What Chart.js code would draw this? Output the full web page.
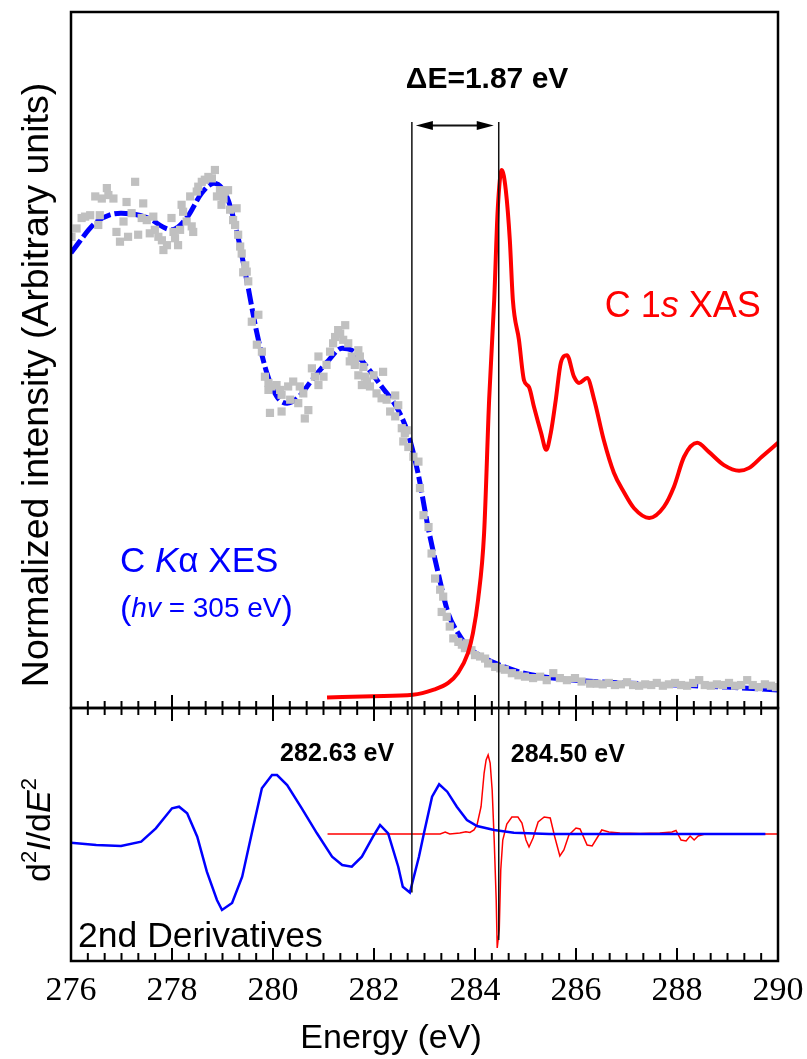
<!DOCTYPE html>
<html>
<head>
<meta charset="utf-8">
<script src="https://cdn.jsdelivr.net/npm/chart.js@4.4.0/dist/chart.umd.min.js"></script>
<style>
  html, body { margin: 0; padding: 0; background: #fff; overflow: hidden; }
  #wrap { position: relative; width: 807px; height: 1059px; overflow: hidden; }
  canvas { position: absolute; left: 0; }
  #top { top: 0; }
  #bottom { top: 690px; }
</style>
</head>
<body>
<div id="wrap">
  <canvas id="top" width="807" height="730"></canvas>
  <canvas id="bottom" width="860" height="369"></canvas>
</div>
<script>
// ---- data (energy in eV, intensity in arbitrary units) ----
const energyTicks = [276, 278, 280, 282, 284, 286, 288, 290];
const markerEnergies = [282.75, 284.47];   // where the two vertical guide lines sit

// C K-alpha XES, smoothed fit (blue dashed)
const xesFitX = [276.00, 276.50, 276.99, 277.49, 278.00, 278.30, 278.59, 278.83, 279.09, 279.29,
  279.49, 279.68, 279.88, 280.08, 280.28, 280.48, 280.77, 281.07, 281.37, 281.56,
  281.86, 282.16, 282.48, 282.67, 282.87, 283.07, 283.27, 283.47, 283.66, 283.86,
  284.18, 284.48, 284.97, 285.98, 286.97, 287.98, 288.99, 290.00];
const xesFitY = [65.4, 69.8, 71.1, 70.5, 68.7, 70.5, 74.0, 75.4, 73.4, 68.2,
  61.1, 53.9, 48.1, 44.7, 43.8, 44.5, 47.1, 49.7, 51.7, 51.4,
  49.0, 46.1, 42.8, 39.5, 33.8, 26.0, 19.4, 13.6, 10.8, 8.8,
  7.2, 6.2, 5.0, 4.0, 3.6, 3.3, 3.0, 2.6];

// C K-alpha XES, measured points (grey squares)
const xesRawX = [276.01, 276.11, 276.21, 276.28, 276.38, 276.48, 276.54, 276.57, 276.61, 276.71,
  276.74, 276.84, 276.90, 276.97, 277.04, 277.10, 277.13, 277.20, 277.27, 277.33,
  277.40, 277.43, 277.50, 277.56, 277.63, 277.66, 277.73, 277.80, 277.83, 277.90,
  277.99, 278.03, 278.06, 278.12, 278.16, 278.19, 278.22, 278.29, 278.36, 278.39,
  278.42, 278.49, 278.52, 278.59, 278.65, 278.72, 278.79, 278.85, 278.89, 278.95,
  278.98, 279.02, 279.05, 279.11, 279.15, 279.21, 279.25, 279.28, 279.31, 279.35,
  279.38, 279.45, 279.48, 279.41, 279.51, 279.58, 279.71, 279.68, 279.78, 279.84,
  279.91, 279.97, 279.91, 280.07, 280.14, 280.17, 279.94, 280.17, 280.30, 280.40,
  280.34, 280.50, 280.53, 280.60, 280.63, 280.70, 280.77, 280.83, 280.90, 280.90,
  281.00, 281.06, 281.13, 281.19, 281.23, 281.29, 281.33, 281.43, 281.39, 281.49,
  281.52, 281.56, 281.62, 281.69, 281.72, 281.62, 281.79, 281.69, 281.82, 281.76,
  281.86, 281.92, 281.99, 282.18, 282.05, 282.15, 282.25, 282.42, 282.48, 282.32,
  282.42, 282.55, 282.61, 282.58, 282.65, 282.68, 282.78, 282.88, 282.91, 282.98,
  283.08, 283.14, 283.21, 283.31, 283.37, 283.34, 283.44, 283.50, 283.57, 283.67,
  283.74, 283.84, 283.80, 283.93, 284.00, 284.10, 284.20, 284.26, 284.40, 284.50,
  284.59, 284.73, 284.86, 284.99, 285.15, 285.29, 285.42, 285.55, 285.68, 285.82,
  285.98, 286.11, 286.28, 286.41, 286.53, 286.65, 286.77, 286.89, 287.01, 287.13,
  287.25, 287.37, 287.49, 287.60, 287.72, 287.84, 287.96, 288.08, 288.20, 288.32,
  288.44, 288.55, 288.67, 288.79, 288.91, 289.03, 289.15, 289.27, 289.39, 289.50,
  289.62, 289.74, 289.86, 289.96];
const xesRawY = [67.7, 68.9, 70.4, 70.6, 70.8, 73.5, 69.4, 70.8, 73.2, 74.7,
  73.7, 73.2, 68.4, 67.0, 69.9, 72.7, 67.7, 71.1, 75.6, 68.0,
  70.4, 72.5, 70.1, 68.2, 70.6, 68.7, 67.7, 67.2, 65.8, 66.5,
  70.4, 68.4, 67.5, 66.5, 68.7, 72.3, 71.3, 69.9, 73.5, 69.2,
  68.4, 74.2, 74.9, 75.6, 75.9, 76.3, 76.1, 77.3, 73.5, 74.4,
  72.3, 73.2, 74.2, 74.4, 71.6, 70.1, 69.4, 71.8, 68.0, 66.3,
  65.3, 63.6, 62.7, 62.6, 61.3, 55.5, 56.5, 52.2, 51.2, 47.6,
  46.7, 46.2, 45.7, 46.4, 45.7, 45.0, 42.4, 42.6, 46.2, 46.9,
  44.3, 43.8, 46.2, 45.2, 41.6, 42.8, 48.8, 47.6, 46.4, 50.5,
  47.6, 49.3, 51.2, 52.4, 53.3, 54.3, 53.8, 55.0, 52.9, 52.4,
  49.8, 50.5, 49.8, 51.4, 50.5, 49.3, 49.0, 47.8, 47.6, 46.4,
  46.9, 46.2, 47.8, 48.3, 45.2, 44.5, 44.3, 44.9, 43.5, 42.6,
  41.9, 40.2, 39.5, 38.3, 39.9, 37.5, 36.1, 35.4, 31.6, 27.7,
  26.0, 22.2, 18.6, 17.0, 16.0, 13.8, 13.1, 11.7, 10.0, 9.5,
  9.1, 9.3, 8.6, 8.3, 7.6, 7.4, 7.1, 6.4, 5.9, 5.7,
  5.5, 5.0, 4.7, 4.5, 4.3, 4.5, 4.0, 5.0, 4.3, 4.0,
  4.3, 3.8, 3.5, 3.5, 3.4, 3.6, 3.3, 3.4, 3.7, 3.3,
  3.2, 3.4, 3.3, 3.6, 3.2, 3.4, 3.6, 3.3, 3.2, 3.6,
  4.0, 3.3, 3.2, 3.4, 3.3, 3.6, 3.2, 3.3, 4.0, 3.3,
  3.0, 3.4, 3.2, 3.0];

// C 1s XAS (red)
const xasX = [281.07, 281.98, 282.77, 283.17, 283.47, 283.66, 283.86, 283.96, 284.06, 284.18,
  284.28, 284.38, 284.45, 284.53, 284.61, 284.69, 284.75, 284.87, 284.97, 285.07,
  285.17, 285.31, 285.41, 285.50, 285.60, 285.70, 285.82, 285.96, 286.06, 286.22,
  286.36, 286.55, 286.75, 286.95, 287.15, 287.45, 287.74, 287.94, 288.14, 288.40,
  288.63, 288.93, 289.23, 289.43, 289.68, 290.00];
const xasY = [1.5, 1.7, 1.9, 2.6, 3.6, 5.0, 7.9, 10.8, 15.5, 25.1,
  44.3, 58.6, 71.6, 77.3, 74.4, 67.2, 58.6, 52.9, 47.1, 46.1,
  43.2, 39.5, 37.1, 39.5, 44.3, 49.6, 50.7, 47.6, 46.7, 47.4,
  44.3, 38.5, 33.8, 31.0, 28.7, 27.3, 28.9, 31.8, 36.1, 38.1,
  36.8, 34.9, 34.1, 34.5, 36.1, 38.1];

// second derivatives (lower panel)
const d2XesX = [276.00, 276.50, 276.99, 277.39, 277.68, 278.00, 278.14, 278.30, 278.50, 278.69,
  278.89, 278.99, 279.19, 279.39, 279.58, 279.78, 279.98, 280.08, 280.28, 280.57,
  280.87, 281.17, 281.37, 281.56, 281.76, 281.98, 282.12, 282.28, 282.48, 282.57,
  282.71, 282.89, 282.99, 283.15, 283.29, 283.45, 283.64, 283.84, 284.04, 284.38,
  284.77, 285.47, 286.48, 289.75];
const d2XesY = [-0.87, -1.1, -1.2, -0.77, 0.57, 2.57, 2.73, 2.07, -0.27, -3.77,
  -6.6, -7.6, -6.9, -4.27, 0.07, 4.57, 5.9, 5.9, 4.9, 2.57,
  0.07, -2.27, -3.1, -3.27, -2.27, -0.27, 0.9, 0.07, -3.27, -5.27,
  -5.85, -2.27, 0.1, 3.73, 4.97, 4.23, 2.73, 1.4, 0.8, 0.4,
  0.13, 0.0, 0.0, 0.0];
const d2XasX = [281.08, 283.31, 283.41, 283.50, 283.70, 283.82, 283.90, 283.98, 284.04, 284.12,
  284.18, 284.22, 284.26, 284.30, 284.34, 284.38, 284.42, 284.44, 284.48, 284.51,
  284.55, 284.63, 284.73, 284.85, 284.93, 285.01, 285.07, 285.15, 285.25, 285.37,
  285.49, 285.58, 285.68, 285.76, 285.86, 286.00, 286.08, 286.22, 286.32, 286.44,
  286.51, 286.65, 286.87, 287.27, 287.66, 287.90, 287.98, 288.08, 288.18, 288.26,
  288.34, 288.42, 288.55, 290.00];
const d2XasY = [0.0, 0.0, 0.2, 0.0, 0.1, 0.23, 0.15, 0.4, 0.9, 2.73,
  6.07, 7.4, 7.9, 7.1, 4.4, -0.6, -6.6, -11.4, -9.6, -3.6,
  -0.6, 1.0, 1.7, 1.7, 1.1, -0.6, -1.3, -0.4, 1.2, 1.7,
  1.6, -0.3, -2.2, -1.6, -0.1, 0.6, 0.5, -1.1, -1.2, -0.2,
  0.4, 0.2, 0.1, 0.05, 0.1, 0.2, 0.35, -0.6, -0.7, -0.2,
  -0.6, -0.2, 0.0, 0.0];

const BLUE = '#0000ff';
const RED = '#ff0000';
const GREY = '#c0c0c0';
const SANS = '"Liberation Sans", Arial, sans-serif';
const SERIF = '"Liberation Serif", "Times New Roman", serif';

Chart.defaults.font.family = SANS;

function pts(xs, ys) {
  return xs.map((x, i) => ({ x: x, y: ys[i] }));
}

// draws a run of text pieces with different fonts, left to right
function richText(ctx, x, y, parts) {
  let cx = x;
  for (const p of parts) {
    ctx.font = p.font;
    ctx.fillText(p.text, cx, y + (p.dy || 0));
    cx += ctx.measureText(p.text).width;
  }
  return cx - x;
}

function richWidth(ctx, parts) {
  let w = 0;
  for (const p of parts) {
    ctx.font = p.font;
    w += ctx.measureText(p.text).width;
  }
  return w;
}

function drawFrame(ctx, area) {
  ctx.save();
  ctx.strokeStyle = '#000';
  ctx.lineWidth = 2.5;
  ctx.strokeRect(area.left, area.top, area.right - area.left, area.bottom - area.top);
  ctx.restore();
}

// minor ticks every 1/3 eV, major every 2 eV
function drawXTicks(ctx, xs, yLine, up, down, upMinor, downMinor) {
  ctx.save();
  ctx.strokeStyle = '#000';
  ctx.lineWidth = 2;
  for (let i = 0; i <= 42; i++) {
    const px = xs.getPixelForValue(276 + i / 3);
    const major = i % 6 === 0;
    ctx.beginPath();
    ctx.moveTo(px, yLine - (major ? up : upMinor));
    ctx.lineTo(px, yLine + (major ? down : downMinor));
    ctx.stroke();
  }
  ctx.restore();
}

const topDecor = {
  id: 'topDecor',
  afterDatasetsDraw(chart) {
    const { ctx, chartArea: area, scales: { x, y } } = chart;
    drawFrame(ctx, area);
    drawXTicks(ctx, x, area.bottom, 13, 13, 7, 7);

    ctx.save();
    // guide lines
    ctx.strokeStyle = '#111';
    ctx.lineWidth = 1.5;
    const yStart = y.getPixelForValue(84.2);
    markerEnergies.forEach(e => {
      const px = x.getPixelForValue(e);
      ctx.beginPath();
      ctx.moveTo(px, yStart);
      ctx.lineTo(px, area.bottom);
      ctx.stroke();
    });

    // double arrow
    const ay = y.getPixelForValue(83.7);
    const xl = x.getPixelForValue(markerEnergies[0]) + 4;
    const xr = x.getPixelForValue(markerEnergies[1]) - 5;
    ctx.lineWidth = 2;
    ctx.beginPath();
    ctx.moveTo(xl + 10, ay);
    ctx.lineTo(xr - 10, ay);
    ctx.stroke();
    ctx.fillStyle = '#000';
    ctx.beginPath();
    ctx.moveTo(xl, ay); ctx.lineTo(xl + 17, ay - 4.5); ctx.lineTo(xl + 17, ay + 4.5); ctx.closePath();
    ctx.fill();
    ctx.beginPath();
    ctx.moveTo(xr, ay); ctx.lineTo(xr - 17, ay - 4.5); ctx.lineTo(xr - 17, ay + 4.5); ctx.closePath();
    ctx.fill();

    // annotations
    ctx.textAlign = 'left';
    ctx.textBaseline = 'alphabetic';
    ctx.fillStyle = '#000';
    richText(ctx, x.getPixelForValue(282.63), y.getPixelForValue(89.1),
      [{ text: 'ΔE=1.87 eV', font: 'bold 30px ' + SANS }]);

    ctx.fillStyle = RED;
    richText(ctx, x.getPixelForValue(286.57), y.getPixelForValue(56.2), [
      { text: 'C 1', font: '36px ' + SANS },
      { text: 's', font: 'italic 36px ' + SANS },
      { text: ' XAS', font: '36px ' + SANS }
    ]);

    ctx.fillStyle = BLUE;
    richText(ctx, x.getPixelForValue(276.97), y.getPixelForValue(19.6), [
      { text: 'C ', font: '35px ' + SANS },
      { text: 'K', font: 'italic 35px ' + SANS },
      { text: 'α XES', font: '35px ' + SANS }
    ]);
    richText(ctx, x.getPixelForValue(276.97), y.getPixelForValue(13.1), [
      { text: '(', font: '34px ' + SANS, dy: 2 },
      { text: 'hv', font: 'italic 28px ' + SANS },
      { text: ' = 305 eV', font: '28px ' + SANS },
      { text: ')', font: '34px ' + SANS, dy: 2 }
    ]);

    // y axis title
    ctx.fillStyle = '#000';
    ctx.translate(48, 385);
    ctx.rotate(-Math.PI / 2);
    ctx.textAlign = 'center';
    ctx.font = '37.5px ' + SANS;
    ctx.fillText('Normalized intensity (Arbitrary units)', 0, 0);
    ctx.restore();
  }
};

const bottomDecor = {
  id: 'bottomDecor',
  afterDatasetsDraw(chart) {
    const { ctx, chartArea: area, scales: { x, y } } = chart;
    drawFrame(ctx, area);
    drawXTicks(ctx, x, area.bottom, 13, 0, 8, 0);

    ctx.save();
    ctx.strokeStyle = '#111';
    ctx.lineWidth = 1.5;
    const ends = [-5.85, -10.6];
    markerEnergies.forEach((e, i) => {
      const px = x.getPixelForValue(e);
      ctx.beginPath();
      ctx.moveTo(px, area.top);
      ctx.lineTo(px, y.getPixelForValue(ends[i]));
      ctx.stroke();
    });

    ctx.textAlign = 'left';
    ctx.textBaseline = 'alphabetic';
    ctx.fillStyle = '#000';
    richText(ctx, x.getPixelForValue(280.14), y.getPixelForValue(7.33),
      [{ text: '282.63 eV', font: 'bold 25px ' + SANS }]);
    richText(ctx, x.getPixelForValue(284.71), y.getPixelForValue(7.2),
      [{ text: '284.50 eV', font: 'bold 25px ' + SANS }]);
    richText(ctx, x.getPixelForValue(276.14), y.getPixelForValue(-11.27),
      [{ text: '2nd Derivatives', font: '35.5px ' + SANS }]);

    // x axis title
    ctx.textAlign = 'center';
    ctx.font = '34px ' + SANS;
    ctx.fillText('Energy (eV)', 391, 358);

    // y axis title d²I/dE²
    const parts = [
      { text: 'd', font: '34px ' + SANS },
      { text: '2', font: '22px ' + SANS, dy: -14 },
      { text: 'I', font: 'italic 34px ' + SANS },
      { text: '/d', font: '34px ' + SANS },
      { text: 'E', font: 'italic 34px ' + SANS },
      { text: '2', font: '22px ' + SANS, dy: -14 }
    ];
    ctx.textAlign = 'left';
    ctx.translate(50, 140);
    ctx.rotate(-Math.PI / 2);
    const w = richWidth(ctx, parts);
    richText(ctx, -w / 2, 0, parts);
    ctx.restore();
  }
};

new Chart(document.getElementById('top'), {
  type: 'line',
  data: {
    datasets: [
      {
        label: 'C 1s XAS',
        data: pts(xasX, xasY),
        borderColor: RED,
        borderWidth: 4,
        pointRadius: 0,
        cubicInterpolationMode: 'monotone',
        fill: false
      },
      {
        label: 'XES data',
        data: pts(xesRawX, xesRawY),
        showLine: false,
        pointStyle: 'rect',
        pointRadius: 5.8,
        pointBorderWidth: 0,
        backgroundColor: GREY,
        borderColor: GREY
      },
      {
        label: 'XES fit',
        data: pts(xesFitX, xesFitY),
        borderColor: BLUE,
        borderWidth: 5,
        borderDash: [16, 4],
        pointRadius: 0,
        cubicInterpolationMode: 'monotone',
        fill: false
      }
    ]
  },
  options: {
    responsive: false,
    animation: false,
    devicePixelRatio: 1,
    layout: { padding: { left: 71, right: 29, top: 12, bottom: 22 } },
    plugins: { legend: { display: false }, tooltip: { enabled: false } },
    scales: {
      x: { type: 'linear', display: false, min: 276, max: 290 },
      y: { type: 'linear', display: false, min: 0, max: 100 }
    }
  },
  plugins: [topDecor]
});

new Chart(document.getElementById('bottom'), {
  type: 'line',
  data: {
    datasets: [
      {
        label: 'XES 2nd derivative',
        data: pts(d2XesX, d2XesY),
        borderColor: BLUE,
        borderWidth: 2.5,
        pointRadius: 0,
        tension: 0,
        fill: false
      },
      {
        label: 'XAS 2nd derivative',
        data: pts(d2XasX, d2XasY),
        borderColor: RED,
        borderWidth: 1.5,
        pointRadius: 0,
        tension: 0,
        fill: false
      }
    ]
  },
  options: {
    responsive: false,
    animation: false,
    devicePixelRatio: 1,
    layout: { padding: { left: 71, right: 82, top: 18, bottom: 0 } },
    plugins: { legend: { display: false }, tooltip: { enabled: false } },
    scales: {
      x: {
        type: 'linear',
        position: 'bottom',
        min: 276,
        max: 290,
        grid: { display: false, drawTicks: false },
        border: { display: false },
        ticks: {
          color: '#000',
          font: { family: SERIF, size: 34 },
          padding: 10,
          maxRotation: 0,
          autoSkip: false
        },
        afterBuildTicks: (axis) => { axis.ticks = energyTicks.map(v => ({ value: v })); },
        afterFit: (axis) => { axis.height = 98; }
      },
      y: { type: 'linear', display: false, min: -12.7, max: 12.6 }
    }
  },
  plugins: [bottomDecor]
});
</script>
</body>
</html>
